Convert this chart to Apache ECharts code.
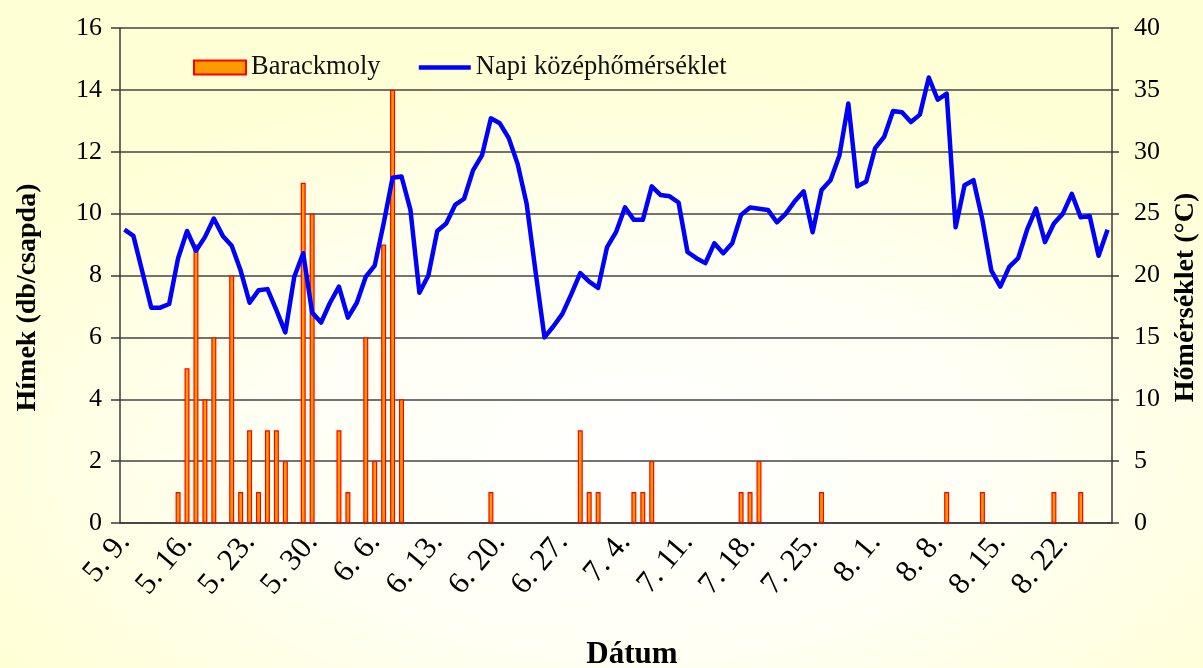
<!DOCTYPE html>
<html>
<head>
<meta charset="utf-8">
<script src="https://cdn.jsdelivr.net/npm/echarts@6/dist/echarts.min.js"></script>
<style>
html,body{margin:0;padding:0;}
#chart{width:1203px;height:668px;background:radial-gradient(ellipse 62% 58% at 53% 68%,#ffffff 0%,#fffff4 50%,#ffffd6 100%);}
</style>
</head>
<body>
<div id="chart"></div>
<script>
// napok (5.9. - 8.27.)
var datumok = [
"5. 9.","5. 10.","5. 11.","5. 12.","5. 13.","5. 14.","5. 15.","5. 16.","5. 17.","5. 18.","5. 19.","5. 20.",
"5. 21.","5. 22.","5. 23.","5. 24.","5. 25.","5. 26.","5. 27.","5. 28.","5. 29.","5. 30.","5. 31.",
"6. 1.","6. 2.","6. 3.","6. 4.","6. 5.","6. 6.","6. 7.","6. 8.","6. 9.","6. 10.","6. 11.","6. 12.","6. 13.","6. 14.","6. 15.",
"6. 16.","6. 17.","6. 18.","6. 19.","6. 20.","6. 21.","6. 22.","6. 23.","6. 24.","6. 25.","6. 26.","6. 27.","6. 28.","6. 29.","6. 30.",
"7. 1.","7. 2.","7. 3.","7. 4.","7. 5.","7. 6.","7. 7.","7. 8.","7. 9.","7. 10.","7. 11.","7. 12.","7. 13.","7. 14.","7. 15.","7. 16.",
"7. 17.","7. 18.","7. 19.","7. 20.","7. 21.","7. 22.","7. 23.","7. 24.","7. 25.","7. 26.","7. 27.","7. 28.","7. 29.","7. 30.","7. 31.",
"8. 1.","8. 2.","8. 3.","8. 4.","8. 5.","8. 6.","8. 7.","8. 8.","8. 9.","8. 10.","8. 11.","8. 12.","8. 13.","8. 14.","8. 15.","8. 16.",
"8. 17.","8. 18.","8. 19.","8. 20.","8. 21.","8. 22.","8. 23.","8. 24.","8. 25.","8. 26.","8. 27."
];

// Barackmoly himek (db/csapda), ures nap = null
var barackmoly = [
null,null,null,null,null,null,1,5,9,4,6,null,8,1,3,1,3,3,2,null,11,10,null,
null,3,1,null,6,2,9,14,4,null,null,null,null,null,null,null,null,null,1,null,null,null,null,null,null,null,null,null,3,1,
1,null,null,null,1,1,2,null,null,null,null,null,null,null,null,null,1,1,2,null,null,null,null,null,null,1,null,null,null,null,null,
null,null,null,null,null,null,null,null,1,null,null,null,1,null,null,null,null,null,null,null,1,null,null,1,null,null,null
];

// napi kozephomerseklet (C)
var homerseklet = [
23.7,23.2,20.3,17.4,17.4,17.7,21.4,23.6,22.0,23.1,
24.6,23.2,22.4,20.4,17.8,18.8,18.9,17.2,15.4,19.9,
21.8,17.0,16.2,17.8,19.1,16.6,17.8,19.9,20.8,24.2,
27.9,28.0,25.3,18.6,20.0,23.6,24.2,25.7,26.2,28.5,
29.7,32.7,32.3,31.1,29.0,25.8,20.3,15.0,15.9,16.9,
18.5,20.2,19.5,19.0,22.3,23.5,25.5,24.5,24.5,27.2,
26.5,26.4,25.9,21.9,21.4,21.0,22.6,21.8,22.6,24.9,
25.5,25.4,25.3,24.3,25.0,26.0,26.8,23.5,26.9,27.7,
29.7,33.9,27.2,27.6,30.3,31.2,33.3,33.2,32.4,33.0,
36.0,34.2,34.7,23.9,27.3,27.7,24.5,20.4,19.1,20.7,
21.4,23.7,25.4,22.7,24.2,25.0,26.6,24.7,24.8,21.6,
23.7
];

var betu = 'Liberation Serif';
var vonal = {color:'#3a3a3a',width:1.5};

var myChart = echarts.init(document.getElementById('chart'));
var option = {
	animation:false,
	backgroundColor:'transparent',
	textStyle:{fontFamily:betu,color:'#000'},
	grid:{left:120,right:91,top:28,bottom:145,containLabel:false,outerBoundsMode:'none'},
	legend:{
		left:193,top:54,padding:0,
		itemWidth:52,itemHeight:14,itemGap:36,
		textStyle:{fontFamily:betu,fontSize:26.5,color:'#111'},
		data:[
			{name:'Barackmoly',icon:'rect'},
			{name:'Napi középhőmérséklet',itemStyle:{opacity:0},lineStyle:{width:4.5}}
		]
	},
	xAxis:[
		{
			type:'category',
			data:datumok,
			position:'bottom',
			axisLine:{lineStyle:vonal},
			axisTick:{interval:6,length:9,lineStyle:vonal},
			axisLabel:{interval:6,rotate:50,fontSize:31,fontFamily:betu,color:'#000',margin:14},
			name:'Dátum',
			nameLocation:'middle',
			nameGap:116,
			nameTextStyle:{fontFamily:betu,fontSize:31,fontWeight:'bold',color:'#000',padding:[0,0,0,32]}
		},
		{
			// belso osztasjelek
			type:'category',
			data:datumok,
			position:'bottom',
			axisLine:{show:false},
			axisTick:{inside:true,interval:6,length:9,lineStyle:vonal},
			axisLabel:{show:false}
		}
	],
	yAxis:[
		{
			type:'value',min:0,max:16,interval:2,
			axisLine:{show:true,lineStyle:vonal},
			axisTick:{show:true,length:9,lineStyle:vonal},
			axisLabel:{fontSize:26,fontFamily:betu,color:'#000',margin:18},
			splitLine:{show:true,lineStyle:{color:'#444',width:1.5}},
			name:'Hímek (db/csapda)',
			nameLocation:'middle',
			nameGap:78,
			nameTextStyle:{fontFamily:betu,fontSize:28,fontWeight:'bold',color:'#000',padding:[0,44,0,0]}
		},
		{
			type:'value',min:0,max:40,interval:5,position:'right',
			axisLine:{show:true,lineStyle:vonal},
			axisTick:{show:true,length:7,lineStyle:vonal},
			axisLabel:{fontSize:26,fontFamily:betu,color:'#000',margin:22},
			splitLine:{show:false},
			name:'Hőmérséklet (°C)',
			nameLocation:'middle',
			nameRotate:90,
			nameGap:60,
			nameTextStyle:{fontFamily:betu,fontSize:28,fontWeight:'bold',color:'#000',padding:[0,44,0,0]}
		}
	],
	series:[
		{
			name:'Barackmoly',
			type:'bar',
			barWidth:5,
			itemStyle:{color:'#FF9900',borderColor:'#FF0000',borderWidth:1.2},
			data:barackmoly
		},
		{
			name:'Napi középhőmérséklet',
			type:'line',
			yAxisIndex:1,
			symbol:'none',
			lineStyle:{color:'#0000FF',width:4.5,join:'round'},
			itemStyle:{color:'#0000FF'},
			data:homerseklet
		}
	]
};
myChart.setOption(option);
</script>
</body>
</html>
